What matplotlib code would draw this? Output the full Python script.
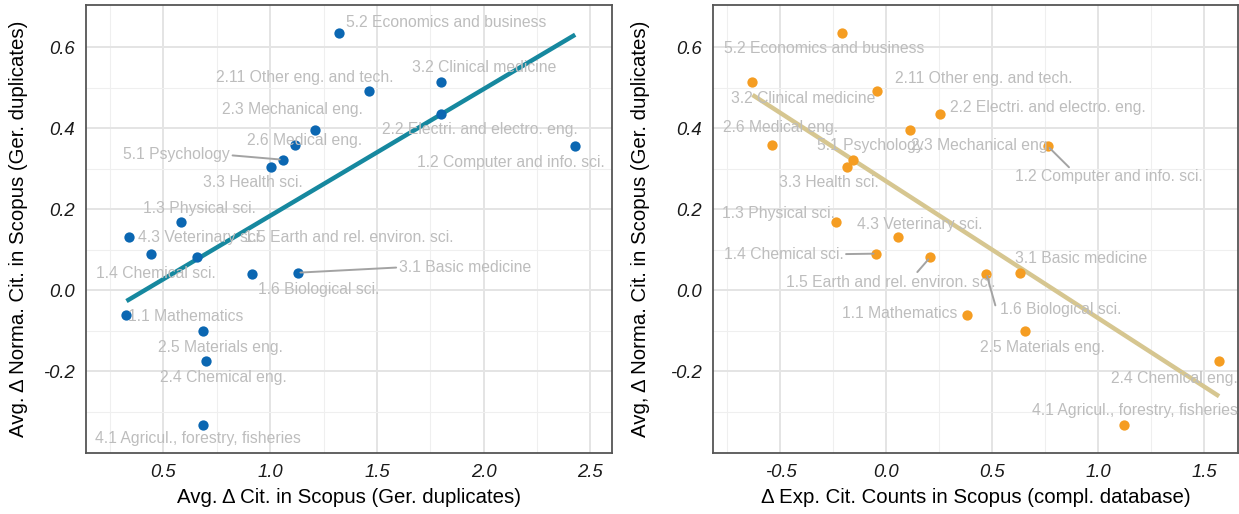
import matplotlib
matplotlib.use("Agg")
import matplotlib.pyplot as plt
import numpy as np

plt.rcParams['font.family'] = ['Liberation Sans', 'DejaVu Sans']

# ---------------- data ----------------
fields = ["5.2 Economics and business", "3.2 Clinical medicine", "2.11 Other eng. and tech.",
          "2.2 Electri. and electro. eng.", "2.3 Mechanical eng.", "1.2 Computer and info. sci.",
          "2.6 Medical eng.", "5.1 Psychology", "3.3 Health sci.", "1.3 Physical sci.",
          "4.3 Veterinary sci.", "1.4 Chemical sci.", "1.5 Earth and rel. environ. sci.",
          "1.6 Biological sci.", "3.1 Basic medicine", "1.1 Mathematics", "2.5 Materials eng.",
          "2.4 Chemical eng.", "4.1 Agricul., forestry, fisheries"]

# Avg. delta Cit. in Scopus (German duplicates)
avg_cit = [1.323, 1.800, 1.461, 1.800, 1.208, 2.429, 1.116, 1.058, 1.002, 0.584,
           0.338, 0.442, 0.656, 0.917, 1.129, 0.327, 0.685, 0.699, 0.685]
# Delta Exp. Cit. Counts in Scopus (complete database)
exp_cit = [-0.209, -0.632, -0.042, 0.254, 0.113, 0.761, -0.540, -0.158, -0.186, -0.236,
           0.054, -0.047, 0.207, 0.472, 0.632, 0.383, 0.654, 1.571, 1.120]
# Avg. delta Norma. Cit. in Scopus (German duplicates)
norm_cit = [0.636, 0.515, 0.491, 0.436, 0.395, 0.356, 0.358, 0.322, 0.303, 0.169,
            0.130, 0.090, 0.081, 0.041, 0.043, -0.062, -0.102, -0.176, -0.333]

# label offsets (data units) for the text placement, left / right panel
off_left = {
    "5.2 Economics and business": (0.500, 0.026),
    "3.2 Clinical medicine": (0.204, 0.034),
    "2.11 Other eng. and tech.": (-0.301, 0.033),
    "2.2 Electri. and electro. eng.": (0.181, -0.039),
    "2.3 Mechanical eng.": (-0.103, 0.052),
    "1.2 Computer and info. sci.": (-0.300, -0.041),
    "2.6 Medical eng.": (0.045, 0.012),
    "5.1 Psychology": (-0.497, 0.013),
    "3.3 Health sci.": (-0.085, -0.038),
    "1.3 Physical sci.": (0.084, 0.033),
    "4.3 Veterinary sci.": (0.335, 0.0),
    "1.4 Chemical sci.": (0.022, -0.050),
    "1.5 Earth and rel. environ. sci.": (0.711, 0.049),
    "1.6 Biological sci.": (0.310, -0.040),
    "3.1 Basic medicine": (0.784, 0.013),
    "1.1 Mathematics": (0.277, -0.003),
    "2.5 Materials eng.": (0.083, -0.040),
    "2.4 Chemical eng.": (0.084, -0.040),
    "4.1 Agricul., forestry, fisheries": (-0.024, -0.033),
}
# leader segments: where the segment leaves the label box (relative position)
lead_left = {"5.1 Psychology": (1.0, 0.45), "3.1 Basic medicine": (0.0, 0.5)}

off_right = {
    "5.2 Economics and business": (-0.086, -0.040),
    "3.2 Clinical medicine": (0.238, -0.041),
    "2.11 Other eng. and tech.": (0.502, 0.031),
    "2.2 Electri. and electro. eng.": (0.511, 0.015),
    "2.3 Mechanical eng.": (0.336, -0.039),
    "1.2 Computer and info. sci.": (0.288, -0.076),
    "2.6 Medical eng.": (0.040, 0.044),
    "5.1 Psychology": (0.084, 0.034),
    "3.3 Health sci.": (-0.087, -0.038),
    "1.3 Physical sci.": (-0.273, 0.021),
    "4.3 Veterinary sci.": (0.102, 0.033),
    "1.4 Chemical sci.": (-0.439, -0.003),
    "1.5 Earth and rel. environ. sci.": (-0.188, -0.062),
    "1.6 Biological sci.": (0.350, -0.089),
    "3.1 Basic medicine": (0.288, 0.035),
    "1.1 Mathematics": (-0.319, 0.005),
    "2.5 Materials eng.": (0.084, -0.039),
    "2.4 Chemical eng.": (-0.210, -0.042),
    "4.1 Agricul., forestry, fisheries": (0.052, 0.036),
}
lead_right = {"1.2 Computer and info. sci.": (0.30, 1.0),
              "1.4 Chemical sci.": (1.0, 0.55),
              "1.5 Earth and rel. environ. sci.": (0.62, 1.05),
              "1.6 Biological sci.": (-0.03, 0.6)}

# ---------------- figure ----------------
W, H = 1239, 514
fig = plt.figure(figsize=(W / 100, H / 100), dpi=100)
axL = fig.add_axes([85.7 / W, (514 - 452.5) / H, 526 / W, 447.5 / H])
axR = fig.add_axes([713.3 / W, (514 - 452.5) / H, 524.4 / W, 447.5 / H])

LABEL_C = '#bdbdbd'
LEAD_C = '#a3a3a3'
LFS = 11.3


def style(ax, xmajor, xminor, xlim):
    ax.set_xlim(*xlim)
    ax.set_ylim(-0.401, 0.704)
    ax.set_xticks(xmajor)
    ax.set_xticks(xminor, minor=True)
    ax.set_yticks([-0.2, 0.0, 0.2, 0.4, 0.6])
    ax.set_yticks([-0.3, -0.1, 0.1, 0.3, 0.5], minor=True)
    ax.xaxis.set_major_formatter(matplotlib.ticker.FormatStrFormatter('%.1f'))
    ax.yaxis.set_major_formatter(matplotlib.ticker.FormatStrFormatter('%.1f'))
    ax.grid(which='major', color='#e4e4e4', linewidth=1.4, zorder=0)
    ax.grid(which='minor', color='#efefef', linewidth=0.8, zorder=0)
    ax.set_axisbelow(True)
    for s in ax.spines.values():
        s.set_color('#555555')
        s.set_linewidth(1.3)
    ax.tick_params(which='both', length=0, pad=8)
    for t in ax.get_xticklabels() + ax.get_yticklabels():
        t.set_fontstyle('italic')
        t.set_fontsize(13.3)
        t.set_color('#1a1a1a')


def draw(ax, xs, ys, pcol, lcol, offs, leads):
    xs = np.asarray(xs)
    ys = np.asarray(ys)
    b, a = np.polyfit(xs, ys, 1)
    xx = np.array([xs.min(), xs.max()])
    ax.plot(xx, a + b * xx, color=lcol, linewidth=3.2, zorder=2, solid_capstyle='butt')
    ax.scatter(xs, ys, s=55, color=pcol, zorder=3, linewidths=0)
    for name, x, y in zip(fields, xs, ys):
        dx, dy = offs[name]
        if name in leads:
            ax.annotate(name, xy=(x, y), xytext=(x + dx, y + dy), ha='center', va='center',
                        fontsize=LFS, color=LABEL_C, zorder=4,
                        arrowprops=dict(arrowstyle='-', color=LEAD_C, lw=1.4,
                                        relpos=leads[name], patchA=None,
                                        shrinkA=2, shrinkB=2))
        else:
            ax.text(x + dx, y + dy, name, ha='center', va='center', fontsize=LFS,
                    color=LABEL_C, zorder=4)


style(axL, [0.5, 1.0, 1.5, 2.0, 2.5], [0.25, 0.75, 1.25, 1.75, 2.25], (0.136, 2.600))
style(axR, [-0.5, 0.0, 0.5, 1.0, 1.5], [-0.75, -0.25, 0.25, 0.75, 1.25], (-0.817, 1.659))

draw(axL, avg_cit, norm_cit, '#0b67b2', '#16889f', off_left, lead_left)
draw(axR, exp_cit, norm_cit, '#f59d22', '#d6c690', off_right, lead_right)

TFS = 14.7
axL.set_xlabel('Avg. \u0394 Cit. in Scopus (Ger. duplicates)', fontsize=TFS, labelpad=5)
axL.set_ylabel('Avg. \u0394 Norma. Cit. in Scopus (Ger. duplicates)', fontsize=TFS)
axR.set_xlabel('\u0394 Exp. Cit. Counts in Scopus (compl. database)', fontsize=TFS, labelpad=5)
axR.set_ylabel('Avg, \u0394 Norma. Cit. in Scopus (Ger. duplicates)', fontsize=TFS)
axL.yaxis.set_label_coords(-0.110, 0.5)
axR.yaxis.set_label_coords(-0.121, 0.5)

fig.savefig('out.png', dpi=100, facecolor='white')
